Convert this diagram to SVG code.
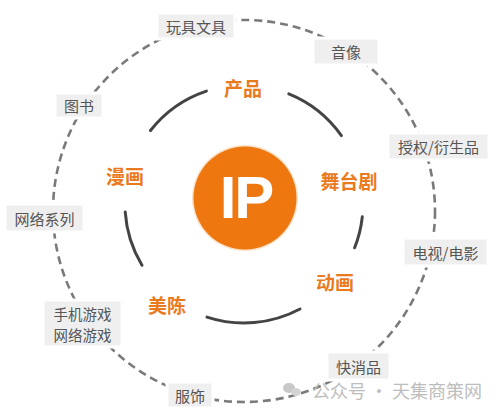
<svg xmlns="http://www.w3.org/2000/svg" width="500" height="418" viewBox="0 0 500 418">
<style>
.ring{fill:none;stroke:#7a7a7a;stroke-width:2.6;stroke-dasharray:8 5}
.arc{fill:none;stroke:#444;stroke-width:3;stroke-linecap:round}
.box{fill:#efefef;stroke:#fff;stroke-width:3}
.bt{font-family:"Noto Sans CJK SC","Noto Sans",sans-serif;font-size:15px;fill:#555;text-anchor:middle;dominant-baseline:central}
.ot{font-family:"Noto Sans CJK SC","Noto Sans",sans-serif;font-size:19px;font-weight:bold;fill:#ea7a1e;text-anchor:middle;dominant-baseline:central}
.wm{font-family:"Noto Sans CJK SC","Noto Sans",sans-serif;font-size:18px;fill:#bdbdbd}
</style>
<rect width="500" height="418" fill="#fff"/>
<g id="connectors">
<circle class="ring" cx="244" cy="211" r="191"/>
<path class="arc" d="M150.5,130.5 A119,119 0 0 1 206.4,91.1"/>
<path class="arc" d="M288.8,93.8 A119,119 0 0 1 341.4,135.6"/>
<path class="arc" d="M362.3,216.8 A119,119 0 0 1 354.6,247.8"/>
<path class="arc" d="M300.0,309.0 A119,119 0 0 1 207.0,317.1"/>
<path class="arc" d="M142.0,265.3 A119,119 0 0 1 125.2,211.9"/>
</g>
<g id="ip">
<circle cx="245" cy="198" r="53" fill="#fbe2c8"/>
<circle cx="245" cy="198" r="51.5" fill="#ee7710"/>
<text x="246" y="218" font-family="Liberation Sans,Arial,sans-serif" font-size="60" font-weight="bold" fill="#fff" text-anchor="middle" letter-spacing="-2">IP</text>
</g>
<g id="chanpin"><text class="ot" x="243" y="87">产品</text></g>
<g id="wutaiju"><text class="ot" x="349" y="180">舞台剧</text></g>
<g id="donghua"><text class="ot" x="335" y="281">动画</text></g>
<g id="meichen"><text class="ot" x="167" y="304">美陈</text></g>
<g id="manhua"><text class="ot" x="125" y="175">漫画</text></g>
<g id="wanju"><rect class="box" x="157" y="13" width="78" height="26"/><text class="bt" x="196" y="26">玩具文具</text></g>
<g id="yinxiang"><rect class="box" x="313" y="38" width="66" height="27"/><text class="bt" x="346" y="51.5">音像</text></g>
<g id="tushu"><rect class="box" x="55" y="93" width="48" height="25"/><text class="bt" x="79" y="105.5">图书</text></g>
<g id="shouquan"><rect class="box" x="388" y="133" width="101" height="27"/><text class="bt" x="438.5" y="146.5">授权/衍生品</text></g>
<g id="wangluo"><rect class="box" x="5" y="204" width="79" height="28"/><text class="bt" x="44.5" y="218">网络系列</text></g>
<g id="dianshi"><rect class="box" x="403" y="238" width="85" height="28"/><text class="bt" x="445.5" y="252">电视/电影</text></g>
<g id="youxi"><rect class="box" x="43" y="300" width="79" height="47"/><text class="bt" x="82.5" y="313" style="font-size:14.5px">手机游戏</text><text class="bt" x="82.5" y="334.5" style="font-size:14.5px">网络游戏</text></g>
<g id="kuaixiao"><rect class="box" x="327" y="352" width="63" height="28"/><text class="bt" x="358.5" y="366">快消品</text></g>
<g id="fushi"><rect class="box" x="167" y="382" width="46" height="26"/><text class="bt" x="190" y="395">服饰</text></g>
<g id="watermark">
<ellipse cx="289" cy="388" rx="6" ry="5" fill="#c8c8c8"/>
<ellipse cx="296" cy="392" rx="5" ry="4" fill="#d4d4d4"/>
<text class="wm" x="312" y="398">公众号 · 天集商策网</text>
</g>
</svg>
